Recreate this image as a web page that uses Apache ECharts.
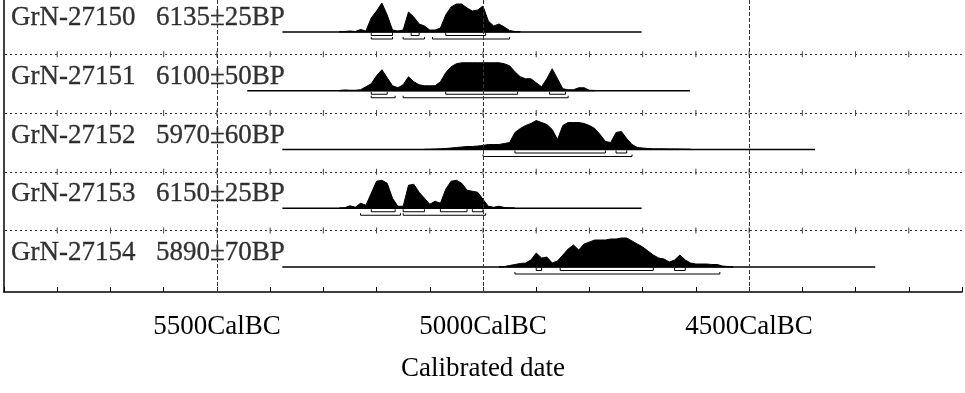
<!DOCTYPE html>
<html>
<head>
<meta charset="utf-8">
<title>Calibrated date</title>
<script src="https://cdn.jsdelivr.net/npm/echarts@6/dist/echarts.min.js"></script>
<style>
html,body{margin:0;padding:0;background:#fff;}
#main{width:965px;height:393px;}
</style>
</head>
<body>
<div id="main"></div>
<script>
// samples, top to bottom
var labIds = ['GrN-27150', 'GrN-27151', 'GrN-27152', 'GrN-27153', 'GrN-27154'];
var bpDates = ['6135±25BP', '6100±50BP', '5970±60BP', '6150±25BP', '5890±70BP'];

// base line of each date (cal BC)
var spanFrom = [5377, 5443, 5377, 5377, 5377];
var spanTo = [4702, 4611, 4376, 4702, 4263];

// probability, read every 10 years going younger from distFrom
var distFrom = [5270, 5270, 5110, 5270, 4970];
var prob27150 = [0.3, 0.5, 1, 0.5, 2.5, 1, 14, 21, 29, 17, 2, 1, 2, 20, 15, 8, 6, 2, 2, 4, 17, 25, 28, 28, 24, 21, 22, 26, 11, 6, 8, 5, 1.5, 0.5, 0.3];
var prob27151 = [0.3, 0.8, 0.5, 0.5, 1, 4, 7, 15, 21, 13, 5, 3, 6, 14, 9, 6, 5, 5, 5, 9, 18, 24, 27, 28, 28, 28, 28, 28, 28, 28, 28, 27, 25, 19, 14, 12, 12, 8, 4, 12, 22, 12, 2, 1, 1, 3, 3, 0.5, 0.3];
var prob27152 = [0.2, 0.3, 0.5, 0.7, 1, 1.5, 2, 2.5, 3, 3, 3.5, 4, 5, 5, 5, 6, 7, 17, 21, 24, 26, 29, 27, 25, 20, 10, 24, 27, 27, 27, 26, 24, 21, 15, 8, 7, 17, 18, 11, 5, 2, 1.5, 1, 0.7, 0.7, 0.7, 0.6, 0.6, 0.5, 0.4, 0.3];
var prob27153 = [0.2, 0.5, 2.5, 1, 5, 3, 15, 27, 28, 25, 10, 2, 2, 23, 24, 16, 10, 4, 7, 5, 19, 27, 28, 25, 18, 17, 16, 9, 2, 1, 2, 0.8, 0.4, 0.2];
var prob27154 = [0.3, 0.5, 1.5, 2.5, 3.5, 4, 7, 14, 9, 10, 4, 6, 12, 18, 22, 17, 23, 25, 27, 27, 27, 28, 28, 29, 29, 26, 23, 20, 16, 12, 9, 8, 5, 7, 12, 7, 4, 3, 3, 3, 2.5, 2.5, 1, 0.4, 0.2];
var probs = [prob27150, prob27151, prob27152, prob27153, prob27154];

// 68.2% and 95.4% ranges (cal BC)
var range68 = [
  [[5210, 5170], [5135, 5120], [5070, 4995]],
  [[5210, 5180], [5070, 4935], [4875, 4845]],
  [[4940, 4770], [4750, 4730]],
  [[5210, 5165], [5150, 5110], [5080, 5030], [5020, 5000]],
  [[4900, 4890], [4855, 4680], [4640, 4620]]
];
var range95 = [
  [[5210, 5170], [5150, 5110], [5095, 4950]],
  [[5210, 5165], [5150, 4840]],
  [[5000, 4720]],
  [[5230, 5155], [5150, 4995]],
  [[4940, 4555]]
];

var majorYears = [5500, 5000, 4500];
var tickLabels = ['5500CalBC', '5000CalBC', '4500CalBC'];

var FONT = 'Liberation Serif';
var X_MIN = 4100, X_MAX = 5900, STEP = 100;
var ROW_TOP = 260, ROW_GAP = 58.75;

function rowBase(k) {
  return ROW_TOP - k * ROW_GAP;
}

var myChart = echarts.init(document.getElementById('main'));

var series = [];

// base lines
for (var k = 0; k < labIds.length; k++) {
  series.push({
    type: 'line',
    silent: true,
    symbol: 'none',
    lineStyle: { color: '#000', width: 1.6 },
    data: [[spanFrom[k], rowBase(k)], [spanTo[k], rowBase(k)]]
  });
}

// dotted lines between rows, vertical lines at 500 years
var sepLines = [];
for (var k = 1; k < labIds.length; k++) {
  sepLines.push({ yAxis: rowBase(k) + 36.5 });
}
series.push({
  type: 'line',
  silent: true,
  symbol: 'none',
  data: [],
  markLine: {
    silent: true,
    symbol: ['none', 'none'],
    label: { show: false },
    lineStyle: { color: '#333', width: 1, type: [2, 3] },
    data: sepLines
  }
});
series.push({
  type: 'line',
  silent: true,
  symbol: 'none',
  data: [],
  markLine: {
    silent: true,
    symbol: ['none', 'none'],
    label: { show: false },
    lineStyle: { color: '#333', width: 1, type: [4, 2] },
    data: majorYears.map(function (y) { return { xAxis: y }; })
  }
});

// small ticks on the dotted lines
var sepTicks = [];
for (var k = 1; k < labIds.length; k++) {
  for (var y = X_MIN + STEP; y < X_MAX; y += STEP) {
    sepTicks.push([y, rowBase(k) + 36.5]);
  }
}
series.push({
  type: 'custom',
  silent: true,
  renderItem: function (params, api) {
    var c = api.coord([api.value(0), api.value(1)]);
    return {
      type: 'line',
      shape: { x1: c[0], y1: c[1] - 3, x2: c[0], y2: c[1] + 3 },
      style: { stroke: '#444', lineWidth: 1 }
    };
  },
  data: sepTicks
});

// probability curves
series.push({
  type: 'custom',
  silent: true,
  renderItem: function (params, api) {
    var k = params.dataIndex;
    var p = probs[k];
    var base = rowBase(k);
    var pts = [api.coord([distFrom[k], base])];
    for (var i = 0; i < p.length; i++) {
      pts.push(api.coord([distFrom[k] - 10 * i, base + p[i]]));
    }
    pts.push(api.coord([distFrom[k] - 10 * (p.length - 1), base]));
    return { type: 'polygon', shape: { points: pts }, style: { fill: '#000', stroke: '#000', lineWidth: 1, lineJoin: 'round' } };
  },
  data: labIds.map(function (d, i) { return [distFrom[i], rowBase(i)]; })
});

// range brackets
var brackets = [];
for (var k = 0; k < labIds.length; k++) {
  range68[k].forEach(function (r) { brackets.push([r[0], r[1], k, 0]); });
  range95[k].forEach(function (r) { brackets.push([r[0], r[1], k, 1]); });
}
series.push({
  type: 'custom',
  silent: true,
  renderItem: function (params, api) {
    var k = api.value(2);
    var a = api.coord([api.value(0), rowBase(k)]);
    var b = api.coord([api.value(1), rowBase(k)]);
    var off = api.value(3) === 0 ? 3.5 : 7;
    var top = api.value(3) === 0 ? 1 : 5;
    return {
      type: 'polyline',
      shape: { points: [[a[0], a[1] + top], [a[0], a[1] + off], [b[0], b[1] + off], [b[0], b[1] + top]] },
      style: { stroke: '#000', lineWidth: 1, fill: null }
    };
  },
  data: brackets
});

// row labels
var labelStyle = { fontFamily: FONT, fontSize: 27, color: '#000', textBorderColor: '#000', textBorderWidth: 0.3 };
series.push({
  type: 'scatter',
  silent: true,
  symbolSize: 0,
  data: labIds.map(function (d, i) { return [X_MAX, rowBase(i) + 14]; }),
  label: {
    show: true,
    position: 'right',
    distance: 7,
    formatter: function (p) {
      return '{a|' + labIds[p.dataIndex] + '}{b|' + bpDates[p.dataIndex] + '}';
    },
    rich: {
      a: Object.assign({ width: 145 }, labelStyle),
      b: labelStyle
    }
  }
});

var option = {
  animation: false,
  grid: { left: 4, right: -2, top: 0, bottom: 101 },
  xAxis: {
    type: 'value',
    min: X_MIN,
    max: X_MAX,
    inverse: true,
    interval: STEP,
    axisLine: { show: true, onZero: false, lineStyle: { color: '#000', width: 1.5 } },
    axisTick: { show: true, inside: true, length: 5, lineStyle: { color: '#000' } },
    axisLabel: {
      margin: 21,
      fontFamily: FONT,
      fontSize: 27,
      color: '#000',
      formatter: function (v) {
        var i = majorYears.indexOf(v);
        return i < 0 ? '' : tickLabels[i];
      }
    },
    splitLine: { show: false },
    name: 'Calibrated date',
    nameLocation: 'middle',
    nameGap: 63,
    nameTextStyle: { fontFamily: FONT, fontSize: 27, color: '#000' }
  },
  yAxis: {
    type: 'value',
    min: 0,
    max: 292,
    axisLine: { show: true, lineStyle: { color: '#000', width: 1.5 } },
    axisTick: { show: false },
    axisLabel: { show: false },
    splitLine: { show: false }
  },
  series: series
};

myChart.setOption(option);
</script>
</body>
</html>
